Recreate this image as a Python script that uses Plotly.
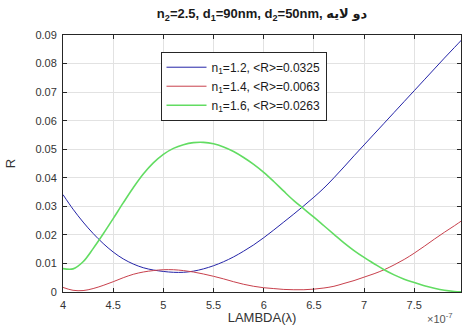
import plotly.graph_objects as go

lam = [4.0, 4.1, 4.2, 4.3, 4.4, 4.5, 4.6, 4.7, 4.8, 4.9,
       5.0, 5.1, 5.2, 5.3, 5.4, 5.5, 5.6, 5.7, 5.8, 5.9,
       6.0, 6.1, 6.2, 6.3, 6.4, 6.5, 6.6, 6.7, 6.8, 6.9,
       7.0, 7.1, 7.2, 7.3, 7.4, 7.5, 7.6, 7.7, 7.8, 7.9, 8.0]

r_n12 = [0.0341, 0.0290, 0.0245, 0.0205, 0.0170, 0.0140, 0.0116, 0.0098, 0.0085, 0.0077,
         0.0072, 0.0069, 0.0069, 0.0073, 0.0081, 0.0092, 0.0106, 0.0123, 0.0143, 0.0165,
         0.0190, 0.0217, 0.0245, 0.0273, 0.0302, 0.0332, 0.0364, 0.0400, 0.0438, 0.0477,
         0.0515, 0.0553, 0.0591, 0.0629, 0.0667, 0.0705, 0.0743, 0.0781, 0.0819, 0.0856, 0.0893]

r_n14 = [0.0016, 0.0006, 0.0005, 0.0012, 0.0023, 0.0036, 0.0050, 0.0062, 0.0070, 0.0075,
         0.0078, 0.0078, 0.0075, 0.0070, 0.0063, 0.0055, 0.0046, 0.0036, 0.0027, 0.0020,
         0.0015, 0.0012, 0.0009, 0.0008, 0.0008, 0.0010, 0.0014, 0.0020, 0.0030, 0.0040,
         0.0052, 0.0064, 0.0078, 0.0095, 0.0114, 0.0136, 0.0160, 0.0185, 0.0209, 0.0232, 0.0256]

r_n16 = [0.0082, 0.0081, 0.0106, 0.0152, 0.0203, 0.0257, 0.0312, 0.0365, 0.0413, 0.0452,
         0.0482, 0.0503, 0.0516, 0.0523, 0.0524, 0.0519, 0.0508, 0.0492, 0.0471, 0.0447,
         0.0419, 0.0387, 0.0353, 0.0320, 0.0291, 0.0262, 0.0232, 0.0202, 0.0172, 0.0145,
         0.0121, 0.0099, 0.0078, 0.0060, 0.0045, 0.0033, 0.0022, 0.0013, 0.0006, 0.0002, 0.0000]

names = ["n<sub>1</sub>=1.2, &lt;R&gt;=0.0325",
         "n<sub>1</sub>=1.4, &lt;R&gt;=0.0063",
         "n<sub>1</sub>=1.6, &lt;R&gt;=0.0263"]

x_ticks = [4, 4.5, 5, 5.5, 6, 6.5, 7, 7.5, 8]
x_ticklabels = ["4", "4.5", "5", "5.5", "6", "6.5", "7", "7.5", "8"]
y_ticks = [0, 0.01, 0.02, 0.03, 0.04, 0.05, 0.06, 0.07, 0.08, 0.09]
y_ticklabels = ["0", "0.01", "0.02", "0.03", "0.04", "0.05", "0.06", "0.07", "0.08", "0.09"]

title_text = "<b>n<sub>2</sub>=2.5, d<sub>1</sub>=90nm, d<sub>2</sub>=50nm, دو لایه</b>"

series = [r_n12, r_n14, r_n16]
colors = ["#2424a8", "#c8404c", "#62dc62"]
widths = [1, 1, 1.6]

fig = go.Figure()
for ys, nm, c, w in zip(series, names, colors, widths):
    fig.add_trace(go.Scatter(x=lam, y=ys, mode="lines", name=nm,
                             line=dict(color=c, width=w, shape="spline", smoothing=1.0)))

axis_common = dict(showline=True, linecolor="#262626", linewidth=1, mirror="allticks",
                   ticks="inside", ticklen=4, tickcolor="#262626", ticklabelstandoff=3,
                   showgrid=True, gridcolor="#e2e2e2", gridwidth=1, zeroline=False,
                   tickfont=dict(family="Liberation Sans, Arial, sans-serif", size=11, color="#333333"))

fig.update_layout(
    width=462, height=325,
    margin=dict(l=63, r=0, t=35, b=31),
    paper_bgcolor="white", plot_bgcolor="white",
    font=dict(family="Liberation Sans, Arial, DejaVu Sans, sans-serif", color="#262626"),
    title=dict(text=title_text, x=0.5, xref="paper", xanchor="center", y=0.958, yref="container",
               yanchor="middle", font=dict(size=13, color="#1a1a1a")),
    xaxis=dict(range=[4, 7.966], tickvals=x_ticks, ticktext=x_ticklabels,
               title=dict(text="LAMBDA(λ)", font=dict(size=13, color="#333333"), standoff=5),
               **axis_common),
    yaxis=dict(range=[0, 0.09], tickvals=y_ticks, ticktext=y_ticklabels,
               title=dict(text="R", font=dict(size=13, color="#333333"), standoff=16),
               **axis_common),
    legend=dict(x=0.245, y=0.935, xanchor="left", yanchor="top",
                bgcolor="white", bordercolor="#262626", borderwidth=1, itemwidth=40,
                font=dict(size=12, color="#1a1a1a"), tracegroupgap=0),
    showlegend=True,
)

fig.add_annotation(text="×10<sup>-7</sup>", xref="paper", yref="paper", x=0.91, y=-0.065,
                   xanchor="left", yanchor="top", showarrow=False,
                   font=dict(size=11, color="#555555"))

fig.write_html("out.html")
